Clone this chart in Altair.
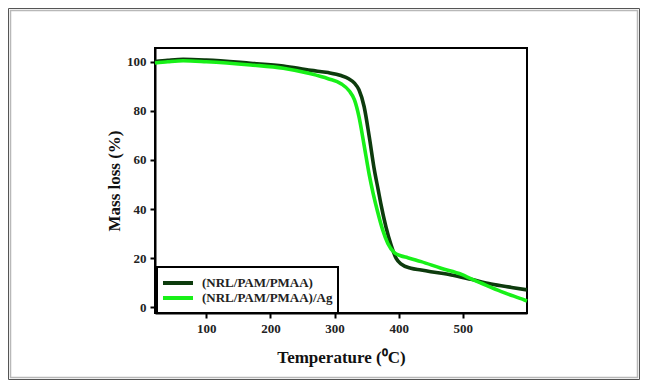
import altair as alt
import pandas as pd

series_names = ["(NRL/PAM/PMAA)", "(NRL/PAM/PMAA)/Ag"]
series_colors = ["#0d3b0d", "#18f018"]

t_plain = [20, 40, 64, 100, 169, 220, 263, 290, 310, 322, 331, 338, 346, 354, 362, 368, 372,
           380, 388, 396, 404, 419, 435, 450, 482, 513, 544, 576, 600]
m_plain = [100.0, 100.5, 100.9, 100.6, 99.3, 98.2, 96.4, 95.5, 94.3, 93.0, 91.2, 88.5, 81.7,
           69.5, 55.9, 47.8, 42.3, 32.8, 25.4, 19.9, 17.6, 15.9, 15.2, 14.5, 13.2, 11.4, 9.5,
           8.1, 7.1]

t_ag = [20, 40, 64, 100, 169, 220, 263, 290, 310, 323, 331, 338, 346, 354, 360, 367, 375,
        383, 393, 403, 414, 435, 466, 498, 513, 529, 560, 596, 600]
m_ag = [99.4, 99.9, 100.3, 99.9, 98.6, 97.3, 95.0, 93.0, 91.0, 88.0, 84.4, 77.6, 66.0, 54.0,
        46.5, 39.0, 31.5, 26.0, 22.3, 21.0, 20.2, 18.6, 15.9, 13.4, 11.6, 9.8, 6.4, 3.0, 2.6]

x_ticks = [100, 200, 300, 400, 500]
y_ticks = [0, 20, 40, 60, 80, 100]

df = pd.concat([
    pd.DataFrame({"T": t_plain, "M": m_plain, "s": series_names[0], "o": 0}),
    pd.DataFrame({"T": t_ag, "M": m_ag, "s": series_names[1], "o": 1}),
])

FONT = "Liberation Serif"

lines = alt.Chart(df).mark_line(strokeWidth=3.6, interpolate="monotone").encode(
    x=alt.X("T:Q", scale=alt.Scale(domain=[20, 600], nice=False, zero=False),
            axis=alt.Axis(values=x_ticks, title="Temperature (\u2070C)", grid=False,
                          titlePadding=14)),
    y=alt.Y("M:Q", scale=alt.Scale(domain=[-2.3, 105.5], nice=False, zero=False),
            axis=alt.Axis(values=y_ticks, title="Mass loss (%)", grid=False,
                          titlePadding=3)),
    color=alt.Color("s:N", scale=alt.Scale(domain=series_names, range=series_colors),
                    legend=None),
    order="o:Q",
    detail="s:N",
)

# outer frame of the figure
frame_outer = alt.Chart().mark_rect(fill=None, stroke="#555555", strokeWidth=1).encode(
    x=alt.value(-146.5), x2=alt.value(484.5), y=alt.value(-39.5), y2=alt.value(331.5))
frame_inner = alt.Chart().mark_rect(fill=None, stroke="#b8b8b8", strokeWidth=1.5).encode(
    x=alt.value(-144.5), x2=alt.value(482.5), y=alt.value(-37.5), y2=alt.value(329.5))

# legend box
legend_box = alt.Chart().mark_rect(fill="white", stroke="black", strokeWidth=2).encode(
    x=alt.value(2), x2=alt.value(183), y=alt.value(219), y2=alt.value(265))

legend_layers = []
for i, (name, col) in enumerate(zip(series_names, series_colors)):
    yy = 235 + 15 * i
    legend_layers.append(
        alt.Chart().mark_rule(color=col, strokeWidth=4).encode(
            x=alt.value(8), x2=alt.value(38), y=alt.value(yy)))
    legend_layers.append(
        alt.Chart().mark_text(align="left", baseline="middle", font=FONT, fontSize=13,
                              fontWeight="bold", color="#222222").encode(
            x=alt.value(47), y=alt.value(yy), text=alt.value(name)))

chart = alt.layer(frame_outer, frame_inner, lines, legend_box, *legend_layers).properties(
    width=372, height=265,
    autosize=alt.AutoSizeParams(type="none"),
    padding={"left": 147, "top": 40, "right": 114, "bottom": 67},
).configure_view(
    stroke="black", strokeWidth=2
).configure_axis(
    domainColor="black", domainWidth=2, tickColor="black", tickWidth=2, tickSize=5,
    labelFont=FONT, labelFontSize=13, labelFontWeight="bold", labelColor="#222222",
    labelPadding=4, titleFont=FONT, titleFontSize=17, titleFontWeight="bold",
    titleColor="#111111",
)

chart.save("out.html", embed_options={"renderer": "svg", "actions": False})
